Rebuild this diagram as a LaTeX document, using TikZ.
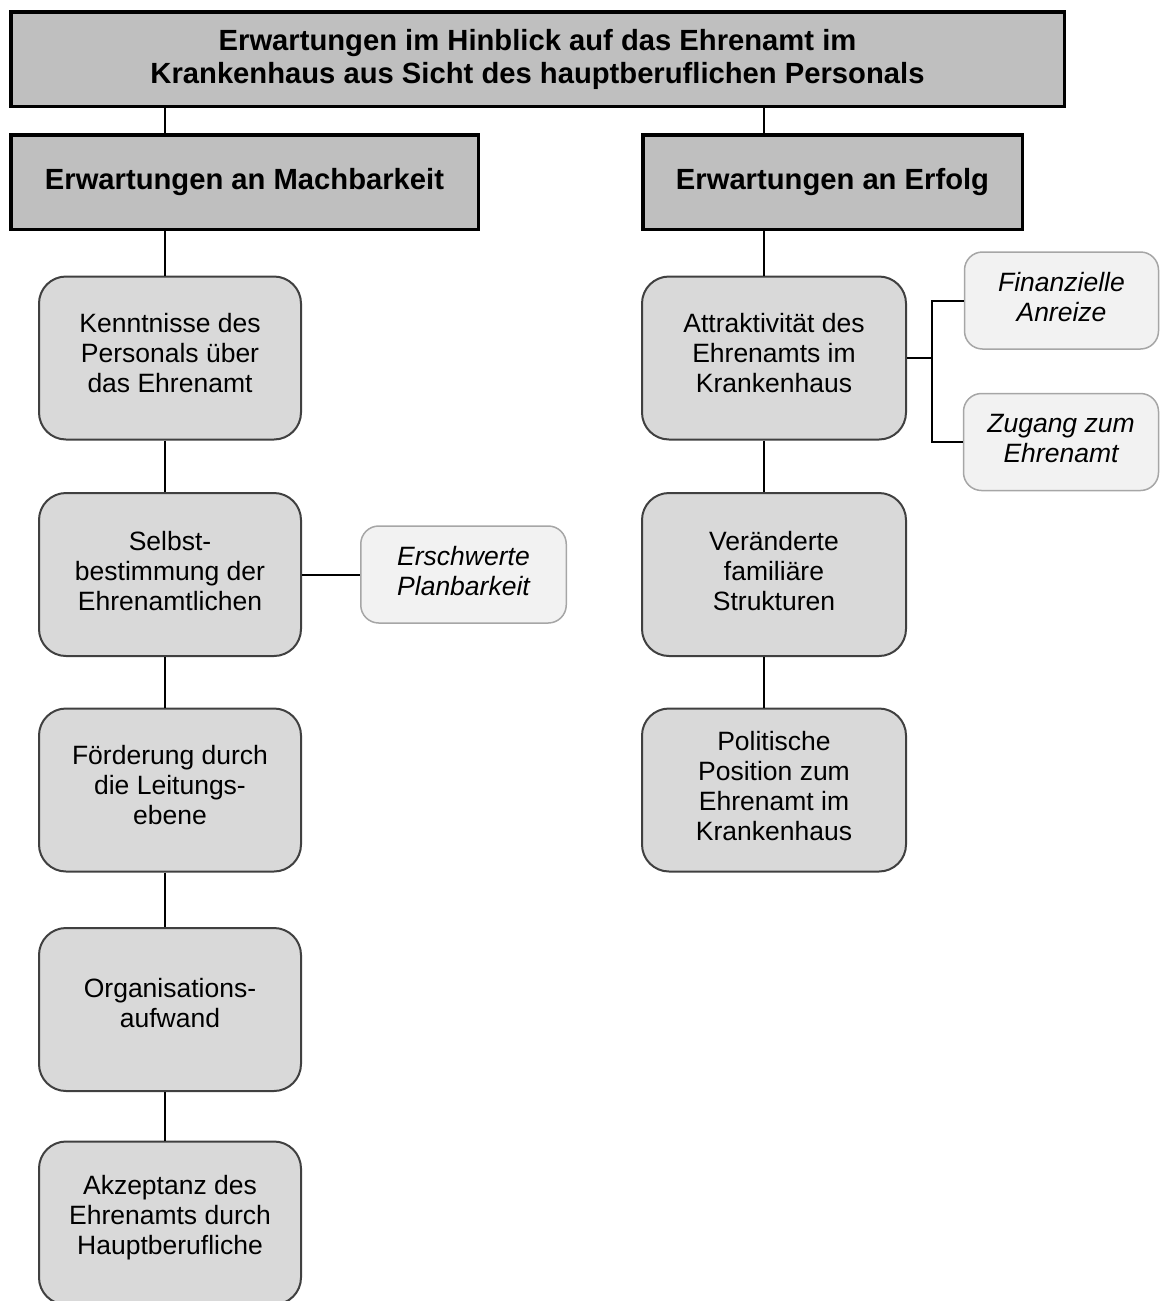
\documentclass[tikz,border=0pt]{standalone}
\usepackage{fontspec}
\setmainfont{Liberation Sans}
\definecolor{headfill}{HTML}{BFBFBF}
\definecolor{boxfill}{HTML}{D9D9D9}
\definecolor{sidefill}{HTML}{F2F2F2}
\definecolor{boxline}{HTML}{404040}
\definecolor{sideline}{HTML}{A6A6A6}
\begin{document}
\begin{tikzpicture}[x=1pt,y=-1pt,
  headbox/.style={draw=black, line width=3.5pt, fill=headfill, inner sep=0pt,
    align=center, font=\bfseries\fontsize{29.2}{33}\selectfont},
  mainbox/.style={draw=boxline, line width=2pt, fill=boxfill, rounded corners=27pt,
    inner sep=0pt, minimum width=262pt, minimum height=163pt},
  sidebox/.style={draw=sideline, line width=1.5pt, fill=sidefill, rounded corners=18pt,
    inner sep=0pt, minimum height=97pt},
  bodytext/.style={inner sep=0pt, align=center, font=\fontsize{26.5}{30}\selectfont},
  sidetext/.style={inner sep=0pt, align=center, font=\itshape\fontsize{26.5}{30}\selectfont},
  link/.style={draw=black, line width=2pt}]
\useasboundingbox (0,0) rectangle (1160,1301);
\clip (0,0) rectangle (1160,1301);

% connector columns
\coordinate (lx) at (165,0);
\coordinate (rx) at (764,0);
\coordinate (bx) at (932,0);

% title and the two headings
\node[headbox, minimum width=1053.5pt, minimum height=94.5pt] (top) at (537.5,59)
  {Erwartungen im Hinblick auf das Ehrenamt im\\Krankenhaus aus Sicht des hauptberuflichen Personals};
\node[headbox, minimum width=467.5pt, minimum height=94.5pt] (hl) at (244.5,182)
  {Erwartungen an Machbarkeit};
\node[headbox, minimum width=379.5pt, minimum height=94.5pt] (hr) at (832.5,182)
  {Erwartungen an Erfolg};

% left column
\node[mainbox] (m1) at (170,358) {};
\node[mainbox] (m2) at (170,574.5) {};
\node[mainbox] (m3) at (170,790) {};
\node[mainbox] (m4) at (170,1009.5) {};
\node[mainbox] (m5) at (170,1223) {};
\node[bodytext] (m1t) at ([yshift=4.5pt]m1.center) {Kenntnisse des\\Personals über\\das Ehrenamt};
\node[bodytext] (m2t) at ([yshift=3.5pt]m2.center) {Selbst-\\bestimmung der\\Ehrenamtlichen};
\node[bodytext] (m3t) at ([yshift=4.5pt]m3.center) {Förderung durch\\die Leitungs-\\ebene};
\node[bodytext] (m4t) at ([yshift=6pt]m4.center) {Organisations-\\aufwand};
\node[bodytext] (m5t) at ([yshift=5pt]m5.center) {Akzeptanz des\\Ehrenamts durch\\Hauptberufliche};

% right column
\node[mainbox, minimum width=264pt] (r1) at (774,358) {};
\node[mainbox, minimum width=264pt] (r2) at (774,574.5) {};
\node[mainbox, minimum width=264pt] (r3) at (774,790) {};
\node[bodytext] (r1t) at ([yshift=4.5pt]r1.center) {Attraktivität des\\Ehrenamts im\\Krankenhaus};
\node[bodytext] (r2t) at ([yshift=3.5pt]r2.center) {Veränderte\\familiäre\\Strukturen};
\node[bodytext] (r3t) at ([yshift=4pt]r3.center) {Politische\\Position zum\\Ehrenamt im\\Krankenhaus};

% side boxes
\node[sidebox, minimum width=205.5pt] (e1) at (463.5,574.5) {};
\node[sidetext] (e1t) at ([yshift=3.5pt]e1.center) {Erschwerte\\Planbarkeit};
\node[sidebox, minimum width=194pt] (f1) at (1061.5,300.5) {};
\node[sidetext] (f1t) at ([yshift=3.5pt]f1.center) {Finanzielle\\Anreize};
\node[sidebox, minimum width=195pt] (f2) at (1061,442) {};
\node[sidetext] (f2t) at ([yshift=3.5pt]f2.center) {Zugang zum\\Ehrenamt};

% connectors
\draw[link] (top.south -| lx) -- (hl.north -| lx);
\draw[link] (top.south -| rx) -- (hr.north -| rx);
\draw[link] (hl.south -| lx) -- (m1.north -| lx);
\draw[link] (m1.south -| lx) -- (m2.north -| lx);
\draw[link] (m2.south -| lx) -- (m3.north -| lx);
\draw[link] (m3.south -| lx) -- (m4.north -| lx);
\draw[link] (m4.south -| lx) -- (m5.north -| lx);
\draw[link] (hr.south -| rx) -- (r1.north -| rx);
\draw[link] (r1.south -| rx) -- (r2.north -| rx);
\draw[link] (r2.south -| rx) -- (r3.north -| rx);
\draw[link] (m2.east) -- (e1.west);
\draw[link] (r1.east) -- (r1.east -| bx);
\draw[link] (f1.west) -- (f1.west -| bx) -- (f2.west -| bx) -- (f2.west);
\end{tikzpicture}
\end{document}
